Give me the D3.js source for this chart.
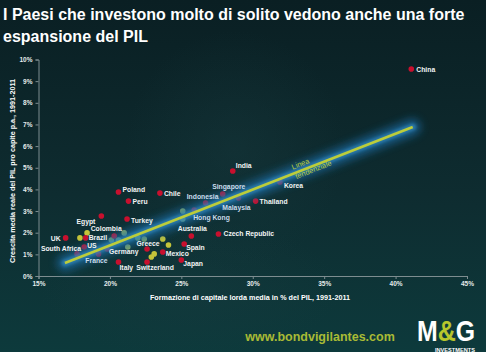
<!DOCTYPE html>
<html><head><meta charset="utf-8">
<script src="https://cdn.jsdelivr.net/npm/d3@7"></script>
<style>
html,body{margin:0;padding:0;background:#0e2b2f;}
svg{display:block;font-family:"Liberation Sans",Arial,sans-serif;}
</style></head>
<body>
<script>
// ---- data ----
const titleLines = ["I Paesi che investono molto di solito vedono anche una forte", "espansione del PIL"];
const xTicks = [15, 20, 25, 30, 35, 40, 45];
const yTicks = [0, 1, 2, 3, 4, 5, 6, 7, 8, 9, 10];
const xTitle = "Formazione di capitale lorda media in % del PIL, 1991-2011";
const yTitle = "Crescita media reale del PIL pro capite p.a., 1991-2011";
const countries = ["China","India","Korea","Poland","Chile","Singapore","Malaysia","Thailand","Peru","Indonesia","Hong Kong","Turkey","Egypt","Colombia","Australia","Czech Republic","UK","Brazil","Spain","US","Greece","Mexico","South Africa","France","Japan","Italy","Switzerland","Germany"];
const investment = [41.1,28.6,31.9,20.6,23.5,27.9,29.0,30.2,21.3,26.7,25.9,21.2,19.4,20.3,25.7,27.6,16.9,18.3,25.2,18.2,22.6,23.7,17.7,19.2,25.0,20.6,22.6,19.8];
const growth     = [9.56,4.85,4.34,3.88,3.83,3.79,3.60,3.46,3.46,3.37,3.05,2.63,2.77,1.85,1.85,1.94,1.76,1.76,1.48,1.34,1.25,1.11,1.02,1.02,0.74,0.65,0.65,1.25];
const otherYellowX = [18.4,17.9,23.7,24.1,23.1,22.9];
const otherYellowY = [1.99,1.76,1.71,1.43,1.02,0.88];
const otherGreenX = [20.1,21.0,20.6,21.25,21.95,22.4,25.1,25.1];
const otherGreenY = [1.66,1.99,1.66,1.34,1.76,1.71,3.00,2.63];
const trendX = [16.85, 41.2];
const trendY = [0.6, 6.88];
const trendLabel = ["Linea", "tendenziale"];
const website = "www.bondvigilantes.com";

// ---- label placement (presentation) ----
const labelPos = {
  "China":[5,0,"start"],"India":[3,-5,"start"],"Korea":[4,3,"start"],"Poland":[4,-2,"start"],
  "Chile":[4,0,"start"],"Singapore":[6,-7,"middle"],"Malaysia":[-2,9,"middle"],"Thailand":[4,0,"start"],
  "Peru":[4,0,"start"],"Indonesia":[-3,-7,"middle"],"Hong Kong":[-1,8,"start"],"Turkey":[4,1,"start"],
  "Egypt":[-6,5,"end"],"Colombia":[-8,-7,"middle"],"Australia":[1,-7,"middle"],"Czech Republic":[5,0,"start"],
  "UK":[-5,1,"end"],"Brazil":[3,0,"start"],"Spain":[2,4,"start"],"US":[3,-1,"start"],
  "Greece":[1,-5,"middle"],"Mexico":[3,2,"start"],"South Africa":[4,-5,"end"],"France":[-2,7,"middle"],
  "Japan":[2,4,"start"],"Italy":[1,6,"start"],"Switzerland":[8,6,"middle"],"Germany":[2,3,"start"]
};
const tinted = {"France":1,"Hong Kong":1,"Malaysia":1,"Singapore":1,"Indonesia":1};

const W = 486, H = 352;
const svg = d3.select("body").append("svg").attr("width", W).attr("height", H);
const defs = svg.append("defs");

const bg = defs.append("linearGradient").attr("id","bg").attr("x1",0).attr("y1",0).attr("x2",0).attr("y2",1);
bg.append("stop").attr("offset","0%").attr("stop-color","#0a1f23");
bg.append("stop").attr("offset","55%").attr("stop-color","#0e2c30");
bg.append("stop").attr("offset","100%").attr("stop-color","#0d3a3c");
const rg = defs.append("radialGradient").attr("id","wm").attr("cx","0.5").attr("cy","0.5").attr("r","0.5");
rg.append("stop").attr("offset","0%").attr("stop-color","#1a3e42").attr("stop-opacity",0.35);
rg.append("stop").attr("offset","100%").attr("stop-color","#1a3e42").attr("stop-opacity",0);
const blur1 = defs.append("filter").attr("id","blur1").attr("x","-20%").attr("y","-50%").attr("width","140%").attr("height","200%");
blur1.append("feGaussianBlur").attr("stdDeviation",4);
const blur2 = defs.append("filter").attr("id","blur2").attr("x","-20%").attr("y","-50%").attr("width","140%").attr("height","200%");
blur2.append("feGaussianBlur").attr("stdDeviation",1.8);
const lg = defs.append("linearGradient").attr("id","logoFill").attr("x1",0).attr("y1",0).attr("x2",1).attr("y2",0);
[["0%","#ffffff"],["36%","#ffffff"],["36%","#b7c62c"],["66%","#b7c62c"],["66%","#ffffff"],["100%","#ffffff"]]
  .forEach(s=>lg.append("stop").attr("offset",s[0]).attr("stop-color",s[1]));

svg.append("rect").attr("width",W).attr("height",H).attr("fill","url(#bg)");
svg.append("ellipse").attr("cx",235).attr("cy",150).attr("rx",110).attr("ry",120).attr("fill","url(#wm)");
svg.append("ellipse").attr("cx",190).attr("cy",290).attr("rx",150).attr("ry",70).attr("fill","url(#wm)");

// title
svg.append("g").selectAll("text").data(titleLines).join("text")
  .attr("x",3).attr("y",(d,i)=>20 + i*22)
  .attr("fill","#ffffff").attr("font-weight","bold").attr("font-size",16)
  .text(d=>d);

const x = d3.scaleLinear().domain([15,45]).range([38.5,467]);
const y = d3.scaleLinear().domain([0,10]).range([276,59.5]);

// axes
const xAxis = svg.append("g").attr("transform",`translate(0,${y(0)})`)
  .call(d3.axisBottom(x).tickValues(xTicks).tickFormat(d=>d+"%").tickSize(3).tickPadding(2));
const yAxis = svg.append("g").attr("transform",`translate(${x(15)},0)`)
  .call(d3.axisLeft(y).tickValues(yTicks).tickFormat(d=>d+"%").tickSize(3).tickPadding(3));
[xAxis,yAxis].forEach(a=>{
  a.select(".domain").attr("stroke","#7d8d90");
  a.selectAll(".tick line").attr("stroke","#7d8d90");
  a.selectAll(".tick text").attr("fill","#e6ecec").attr("font-size",6.5).attr("font-weight","bold")
    .attr("font-family","'Liberation Sans',Arial,sans-serif");
});

svg.append("text").attr("x",250).attr("y",300).attr("text-anchor","middle")
  .attr("fill","#ffffff").attr("font-size",7.2).attr("font-weight","bold").text(xTitle);
svg.append("text").attr("transform","translate(15,171) rotate(-90)").attr("text-anchor","middle")
  .attr("fill","#ffffff").attr("font-size",7.2).attr("font-weight","bold").text(yTitle);

// points
const others = otherYellowX.map((v,i)=>({x:v,y:otherYellowY[i],c:"#c4c43a"}))
  .concat(otherGreenX.map((v,i)=>({x:v,y:otherGreenY[i],c:"#8fae5c"})));
svg.append("g").selectAll("circle").data(others).join("circle")
  .attr("cx",d=>x(d.x)).attr("cy",d=>y(d.y)).attr("r",2.8).attr("fill",d=>d.c);
const pts = countries.map((c,i)=>({name:c,x:investment[i],y:growth[i]}));
svg.append("g").selectAll("circle").data(pts).join("circle")
  .attr("cx",d=>x(d.x)).attr("cy",d=>y(d.y)).attr("r",2.8).attr("fill","#c8102e");

// trend line glow (under labels)
const line = d3.line().x(d=>x(d[0])).y(d=>y(d[1]));
const tr = trendX.map((v,i)=>[v,trendY[i]]);
svg.append("path").attr("d",line(tr)).attr("stroke","#1a6ea8").attr("stroke-width",16)
  .attr("stroke-linecap","round").attr("fill","none").attr("opacity",0.7).attr("filter","url(#blur1)");
svg.append("path").attr("d",line(tr)).attr("stroke","#3b9ad6").attr("stroke-width",7)
  .attr("stroke-linecap","round").attr("fill","none").attr("opacity",0.5).attr("filter","url(#blur2)");

svg.append("g").selectAll("text").data(pts).join("text")
  .attr("x",d=>x(d.x)+labelPos[d.name][0]).attr("y",d=>y(d.y)+labelPos[d.name][1])
  .attr("text-anchor",d=>labelPos[d.name][2]).attr("dominant-baseline","central")
  .attr("fill",d=>tinted[d.name] ? "#c9dcec" : "#f2f4f4").attr("font-size",6.8).attr("font-weight","bold").text(d=>d.name);

svg.append("path").attr("d",line(tr)).attr("stroke","#bccd3a").attr("stroke-width",2.6)
  .attr("fill","none");

// trend label
const p0 = [x(trendX[0]),y(trendY[0])], p1 = [x(trendX[1]),y(trendY[1])];
const ang = Math.atan2(p1[1]-p0[1], p1[0]-p0[0]) * 180/Math.PI;
const t = 0.7;
const lx = p0[0]+(p1[0]-p0[0])*t, ly = p0[1]+(p1[1]-p0[1])*t;
svg.append("g").attr("transform",`translate(${lx},${ly}) rotate(${ang})`)
  .selectAll("text").data(trendLabel).join("text")
  .attr("x",(d,i)=> i===0 ? -6 : 4).attr("y",(d,i)=> i===0 ? -4 : 6)
  .attr("text-anchor","middle").attr("fill","#b9cc3c").attr("font-size",7.5).text(d=>d);

// website
svg.append("text").attr("x",320).attr("y",341).attr("text-anchor","middle")
  .attr("fill","#a9bb35").attr("font-size",12.5).attr("font-weight","bold").text(website);

// logo (single text, two-colour gradient fill)
svg.append("text").attr("x",417).attr("y",341).attr("font-size",30)
  .attr("font-weight","bold").attr("textLength",58).attr("lengthAdjust","spacingAndGlyphs")
  .attr("fill","url(#logoFill)").text("M&G");
svg.append("text").attr("x",435).attr("y",352).attr("fill","#ffffff").attr("font-size",4.5)
  .attr("font-weight","bold").attr("textLength",40).attr("lengthAdjust","spacingAndGlyphs").text("INVESTMENTS");
</script>
</body></html>
